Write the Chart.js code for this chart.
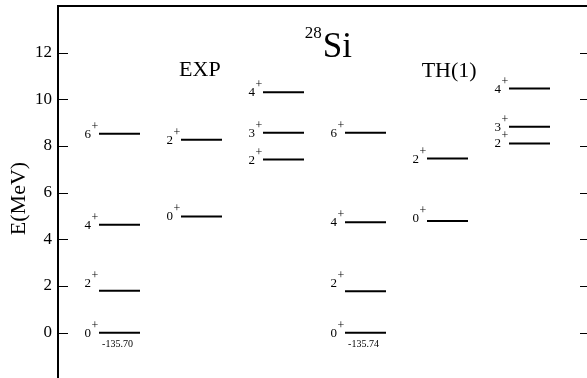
<!DOCTYPE html>
<html>
<head>
<meta charset="utf-8">
<script src="https://cdn.jsdelivr.net/npm/chart.js@4"></script>
<style>
  html, body { margin: 0; padding: 0; background: #fff; overflow: hidden; }
  #wrap { width: 600px; height: 392px; }
</style>
</head>
<body>
<div id="wrap"><canvas id="levels"></canvas></div>
<script>
// level energies (MeV) per column: 3 EXP columns, then 3 TH(1) columns
const energies = [
  [0, 1.80, 4.63, 8.53],
  [4.98, 8.27],
  [7.42, 8.57, 10.30],
  [0, 1.77, 4.73, 8.57],
  [4.79, 7.46],
  [8.11, 8.83, 10.46],
];
const spins = [
  ["0", "2", "4", "6"],
  ["0", "2"],
  ["2", "3", "4"],
  ["0", "2", "4", "6"],
  ["0", "2"],
  ["2", "3", "4"],
];
const groundEnergies = ["-135.70", "", "", "-135.74", "", ""];
const groupNames = ["EXP", "TH(1)"];
const yTicks = [0, 2, 4, 6, 8, 10, 12];

const serif = "'Liberation Serif', 'Times New Roman', serif";
Chart.defaults.font.family = serif;
Chart.defaults.color = "#000";

// one short horizontal segment per level; column c spans x = c+0.5 .. c+1
const datasets = [];
energies.forEach((col, c) => {
  col.forEach((e) => {
    datasets.push({
      data: [{ x: c + 0.5, y: e }, { x: c + 1, y: e }],
      borderColor: "#000",
      borderWidth: 2,
      pointRadius: 0,
      fill: false,
    });
  });
});

// spin labels that sit a bit higher than their level
const lift = { "0-1": 8, "3-1": 8, "4-0": 3 };

const framePlugin = {
  id: "frame",
  afterDraw(chart) {
    const { ctx, chartArea: a, scales } = chart;
    ctx.save();
    ctx.strokeStyle = "#000";
    ctx.lineWidth = 1.2;
    yTicks.forEach((t) => {
      const py = Math.round(scales.y.getPixelForValue(t)) + 0.5;
      ctx.beginPath();
      ctx.moveTo(a.left, py); ctx.lineTo(a.left + 10, py);
      ctx.moveTo(a.right - 11, py); ctx.lineTo(a.right, py);
      ctx.stroke();
    });
    ctx.lineWidth = 2;
    ctx.beginPath();
    ctx.moveTo(a.left, a.bottom);
    ctx.lineTo(a.left, a.top);
    ctx.lineTo(a.right, a.top);
    ctx.lineTo(a.right, a.bottom);
    ctx.stroke();
    ctx.restore();
  },
};

const labelPlugin = {
  id: "levelLabels",
  afterDatasetsDraw(chart) {
    const { ctx, scales } = chart;
    const xs = scales.x, ys = scales.y;
    ctx.save();
    ctx.fillStyle = "#000";
    energies.forEach((col, c) => {
      const x0 = xs.getPixelForValue(c + 0.5);
      const x1 = xs.getPixelForValue(c + 1);
      col.forEach((e, i) => {
        const py = ys.getPixelForValue(e) - (lift[c + "-" + i] || 0);
        ctx.font = "13px " + serif;
        ctx.textAlign = "right";
        ctx.textBaseline = "alphabetic";
        ctx.fillText(spins[c][i], x0 - 8, py + 4);
        ctx.font = "12px " + serif;
        ctx.textAlign = "left";
        ctx.fillText("+", x0 - 7.5, py - 4);
      });
      if (groundEnergies[c]) {
        const py = ys.getPixelForValue(0);
        ctx.font = "10px " + serif;
        ctx.textAlign = "center";
        ctx.fillText(groundEnergies[c], (x0 + x1) / 2 - 2, py + 14);
      }
    });

    // group headings
    ctx.font = "22px " + serif;
    ctx.textAlign = "center";
    ctx.fillText(groupNames[0], xs.getPixelForValue(1.73), ys.getPixelForValue(11.0));
    ctx.fillText(groupNames[1], xs.getPixelForValue(4.77), ys.getPixelForValue(10.97));

    // nucleus name
    const sx = xs.getPixelForValue(3.23);
    const sy = ys.getPixelForValue(11.83);
    ctx.font = "35px " + serif;
    ctx.textAlign = "left";
    ctx.fillText("Si", sx, sy);
    ctx.font = "17px " + serif;
    ctx.textAlign = "right";
    ctx.fillText("28", sx - 1, sy - 19);
    ctx.restore();
  },
};

new Chart(document.getElementById("levels"), {
  type: "line",
  data: { datasets },
  options: {
    responsive: true,
    maintainAspectRatio: false,
    animation: false,
    layout: { padding: { top: 6, right: 9, bottom: 1, left: 0 } },
    plugins: { legend: { display: false }, tooltip: { enabled: false } },
    scales: {
      x: { type: "linear", min: 0, max: 6.5, display: false },
      y: {
        type: "linear",
        min: -2.5,
        max: 14,
        afterBuildTicks: (scale) => {
          scale.ticks = yTicks.map((v) => ({ value: v }));
        },
        afterFit: (scale) => {
          scale.width = 58;
          scale.paddingTop = 0;
          scale.paddingBottom = 0;
        },
        grid: { display: false, drawTicks: false },
        border: { display: false },
        ticks: { padding: 6, font: { size: 17 }, color: "#000" },
        title: {
          display: true,
          text: "E(MeV)",
          font: { size: 22 },
          color: "#000",
          padding: { top: 6, bottom: 0 },
        },
      },
    },
  },
  plugins: [framePlugin, labelPlugin],
});
</script>
</body>
</html>
